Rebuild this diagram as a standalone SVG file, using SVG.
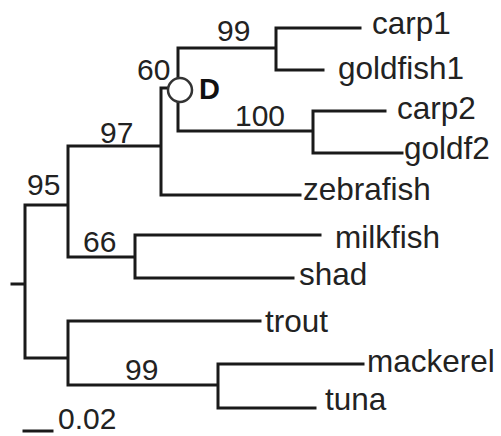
<svg xmlns="http://www.w3.org/2000/svg" width="501" height="436" viewBox="0 0 501 436">
<style>
.e{stroke:#1a1a1a;stroke-width:3;fill:none;stroke-linecap:square}
.t{font-family:"Liberation Sans",Arial,sans-serif;font-size:31.5px;fill:#222}
.b{font-family:"Liberation Sans",Arial,sans-serif;font-size:30px;fill:#222}
.d{font-family:"Liberation Sans",Arial,sans-serif;font-size:29px;font-weight:bold;fill:#111}
</style>
<rect width="501" height="436" fill="#fff"/>
<g id="connectors">
<path class="e" d="M12,284H25M25,205V358M25,205H68M68,146V257M68,146H161M161,88V195M161,88H170M178,48V131M178,48H276M276,28V70M276,28H360M276,70H323M178,131H313M313,111V153M313,111H385M313,153H402M161,195H300M68,257H135M135,235V278M135,235H320M135,278H293M25,358H68M68,321V385M68,321H260M68,385H218M218,364V408M218,364H363M218,408H315"/>
<path class="e" d="M24,431H52"/>
</g>
<g id="node-D">
<circle cx="180" cy="90" r="12" fill="#fff" stroke="#333" stroke-width="2.5"/>
<text class="d" x="199" y="99">D</text>
<text class="b" x="137" y="80">60</text>
</g>
<g id="node-carp1-goldfish1"><text class="b" x="217" y="41">99</text></g>
<g id="node-carp2-goldf2"><text class="b" x="235" y="126">100</text></g>
<g id="node-97"><text class="b" x="100" y="143">97</text></g>
<g id="node-95"><text class="b" x="27" y="195">95</text></g>
<g id="node-66"><text class="b" x="83" y="252">66</text></g>
<g id="node-99b"><text class="b" x="125" y="380">99</text></g>
<g id="leaf-carp1"><text class="t" x="372" y="34">carp1</text></g>
<g id="leaf-goldfish1"><text class="t" x="338" y="79">goldfish1</text></g>
<g id="leaf-carp2"><text class="t" x="397" y="119">carp2</text></g>
<g id="leaf-goldf2"><text class="t" x="404" y="159">goldf2</text></g>
<g id="leaf-zebrafish"><text class="t" x="303" y="200">zebrafish</text></g>
<g id="leaf-milkfish"><text class="t" x="335" y="248">milkfish</text></g>
<g id="leaf-shad"><text class="t" x="299" y="285">shad</text></g>
<g id="leaf-trout"><text class="t" x="265" y="332">trout</text></g>
<g id="leaf-mackerel"><text class="t" x="367" y="372">mackerel</text></g>
<g id="leaf-tuna"><text class="t" x="325" y="410">tuna</text></g>
<g id="scale"><text class="b" x="58" y="429">0.02</text></g>
</svg>
